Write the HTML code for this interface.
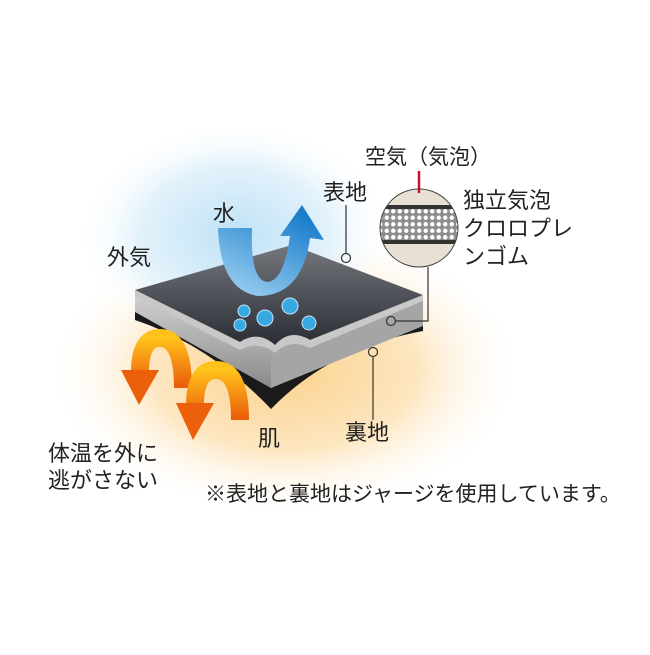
<!DOCTYPE html>
<html><head><meta charset="utf-8"><style>
body{margin:0;background:#fff}
svg text{font-family:"Liberation Sans","Noto Sans CJK JP",sans-serif;fill:#222}
</style></head><body>
<svg width="650" height="650" viewBox="0 0 650 650" xmlns="http://www.w3.org/2000/svg">
<defs>
<radialGradient id="org" cx="0.5" cy="0.5" r="0.5">
<stop offset="0" stop-color="#fbd28e"/><stop offset="0.55" stop-color="#fde6c0"/><stop offset="1" stop-color="#fff" stop-opacity="0"/></radialGradient>
<radialGradient id="blu" cx="0.5" cy="0.5" r="0.5">
<stop offset="0" stop-color="#bfe2f6"/><stop offset="0.6" stop-color="#e3f2fb"/><stop offset="1" stop-color="#fff" stop-opacity="0"/></radialGradient>
<linearGradient id="top" x1="0" y1="0" x2="0" y2="1"><stop offset="0" stop-color="#75777d"/><stop offset="1" stop-color="#2b2d35"/></linearGradient>
<linearGradient id="side" x1="0" y1="0" x2="0" y2="1"><stop offset="0" stop-color="#d4d4d4"/><stop offset="1" stop-color="#8a8a8a"/></linearGradient>
<linearGradient id="bw" x1="0" y1="1" x2="0.6" y2="0"><stop offset="0" stop-color="#a5d6f4"/><stop offset="1" stop-color="#1a7ecb"/></linearGradient>
<linearGradient id="ow" x1="0" y1="0" x2="0" y2="1"><stop offset="0" stop-color="#ffc21a"/><stop offset="1" stop-color="#ea5a0a"/></linearGradient>
<pattern id="dots" width="6.5" height="6.5" patternUnits="userSpaceOnUse"><rect width="7" height="7" fill="#8e8e8e"/><circle cx="3.25" cy="3.25" r="2.2" fill="#fff"/></pattern>
<clipPath id="cc"><circle cx="419" cy="228" r="39"/></clipPath>
</defs>
<ellipse cx="285" cy="370" rx="240" ry="145" fill="url(#org)"/>
<ellipse cx="235" cy="235" rx="160" ry="115" fill="url(#blu)"/>
<!-- slab -->
<path d="M135,312 L135,320 Q210,345 271,409 Q330,348 423,331 L423,326Z" fill="#1a1a1a"/>
<path d="M135,290 L271,350 L271,388 L135,312Z" fill="url(#side)"/>
<path d="M271,350 L423,295 L423,326 L271,388Z" fill="#a5a5a5"/>
<path d="M135,290 L292,245 L423,295 L310,340 Q290,328 275,345 Q258,330 240,342 Z" fill="url(#top)"/>
<path d="M135,290 L240,342 Q258,330 275,345 Q290,328 310,340 L423,295 L423,301 L310,348 Q290,338 275,353 Q258,340 240,350 L135,296Z" fill="#c8c8c8"/>
<!-- drops -->
<g fill="#36a9e1" stroke="#bfe6fb" stroke-width="1"><circle cx="244" cy="311" r="6"/><circle cx="265" cy="318" r="8"/><circle cx="290" cy="306" r="8"/><circle cx="309" cy="323" r="7"/><circle cx="240" cy="325" r="6"/></g>
<!-- blue arrow -->
<path d="M218,228 L252,228 Q250,282 268,282 Q284,280 290,236 L280,236 L302,205 L324,240 L310,238 Q302,296 258,296 Q220,290 218,228Z" fill="url(#bw)"/>
<!-- orange arrows -->
<path d="M183,388 Q183,338 160,338 Q140,338 140,372" fill="none" stroke="url(#ow)" stroke-width="18"/>
<path d="M121,370 L159,370 L139,405Z" fill="#ec600c"/>
<path d="M240,420 Q240,370 216,370 Q195,370 195,405" fill="none" stroke="url(#ow)" stroke-width="18"/>
<path d="M176,403 L214,403 L193,440Z" fill="#ec600c"/>
<!-- magnifier -->
<g clip-path="url(#cc)"><rect x="378" y="188" width="82" height="82" fill="#e8e1d3"/><rect x="378" y="205" width="82" height="4" fill="#333"/><rect x="378" y="209" width="82" height="31" fill="url(#dots)"/><rect x="378" y="240" width="82" height="4" fill="#333"/></g>
<circle cx="419" cy="228" r="39" fill="none" stroke="#444" stroke-width="1"/>
<line x1="419" y1="171" x2="419" y2="193" stroke="#c8102e" stroke-width="2.5"/>
<g stroke="#333" stroke-width="1.2" fill="none">
<path d="M428,267 L428,321 L395,321"/><circle cx="391" cy="321" r="4.5"/>
<path d="M346,205 L346,254"/><circle cx="346" cy="258" r="4.5"/>
<circle cx="373" cy="352" r="4.5"/><path d="M373,357 L373,420"/>
</g>
<g font-size="22">
<text x="107" y="265">外気</text>
<text x="213" y="221">水</text>
<text x="323" y="200">表地</text>
<text x="365" y="164" font-size="21">空気（気泡）</text>
<text x="463" y="208">独立気泡</text>
<text x="463" y="236">クロロプレ</text>
<text x="463" y="264">ンゴム</text>
<text x="258" y="446">肌</text>
<text x="345" y="440">裏地</text>
<text x="48" y="461">体温を外に</text>
<text x="48" y="488">逃がさない</text>
<text x="205" y="501" font-size="21">※表地と裏地はジャージを使用しています。</text>
</g>
</svg>
</body></html>
